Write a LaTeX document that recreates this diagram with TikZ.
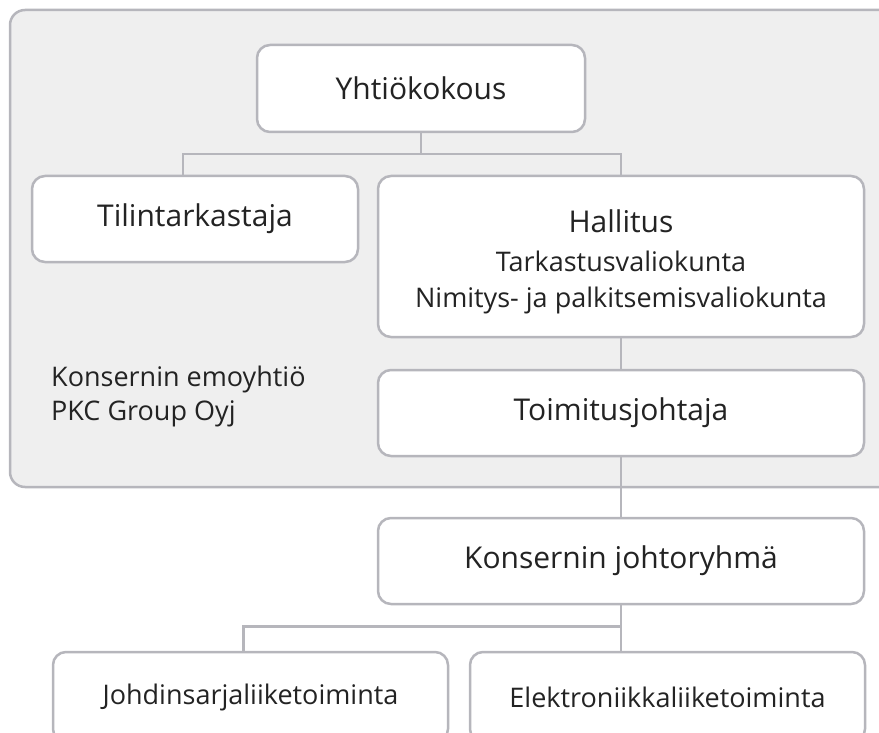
\documentclass[tikz,border=0pt]{standalone}
\usepackage{fontspec}
\setmainfont{Open Sans}
\definecolor{linegray}{RGB}{182,182,188}
\definecolor{panelgray}{RGB}{239,239,239}
\definecolor{textdark}{RGB}{35,35,35}
\newcommand{\titlesize}{\fontsize{30}{36}\selectfont}
\newcommand{\subsize}{\fontsize{27}{34}\selectfont}

\begin{document}
\begin{tikzpicture}[x=1pt,y=-1pt]
		\tikzset{box/.style = {draw=linegray, line width=2.5pt, fill=white, rounded corners=13pt,
				text=textdark, font=\titlesize, align=center, inner sep=0pt}}
		\tikzset{wide/.style = {box, minimum width=486pt}}
		\tikzset{edge/.style = {draw=linegray, line width=2.5pt}}
		
		\useasboundingbox (0,0) rectangle (879,733);
		\fill[panelgray, draw=linegray, line width=2.5pt, rounded corners=15pt] (10,10) rectangle (900,487);
		
		\node[box, minimum width=328pt, minimum height=87pt] (yht) at (421, 88.5) {Yhtiökokous};
		\node[box, minimum width=326pt, minimum height=86pt] (til) at (195, 219)  {Tilintarkastaja};
		\node[wide, minimum height=161pt] (hal) at (621, 256.5) {};
		\node[text=textdark, font=\titlesize, align=center, inner sep=0pt] (haltxt) at ([yshift=-5pt]hal.center)
			{Hallitus\\[3pt]{\subsize Tarkastusvaliokunta}\\{\subsize Nimitys- ja palkitsemisvaliokunta}};
		\node[wide, minimum height=86pt]  (toi) at (621, 413)  {Toimitusjohtaja};
		\node[wide, minimum height=86pt]  (kon) at (621, 561)  {Konsernin johtoryhmä};
		\node[box, font=\subsize, minimum width=395pt, minimum height=90pt] (joh) at (250.5, 697) {Johdinsarjaliiketoiminta};
		\node[box, font=\subsize, minimum width=395pt, minimum height=90pt] (ele) at (667.5, 697) {Elektroniikkaliiketoiminta};
		
		\node[text=textdark, font=\subsize, align=left, anchor=west, inner sep=0pt]
			(emo) at (51, 396) {Konsernin emoyhtiö\\PKC Group Oyj};
		
		\draw[edge] (yht.south) -- ++(0,21) -| ([xshift=-12pt]til.north);
		\draw[edge] (yht.south) ++(0,21) -| (hal.north);
		\draw[edge] (hal) -- (toi);
		\draw[edge] (toi) -- (kon);
		\draw[edge] (kon.south) -- (ele.north -| kon.south);
		\draw[edge] (kon.south) ++(0,21) -| ([xshift=-7pt]joh.north);
\end{tikzpicture}
\end{document}
